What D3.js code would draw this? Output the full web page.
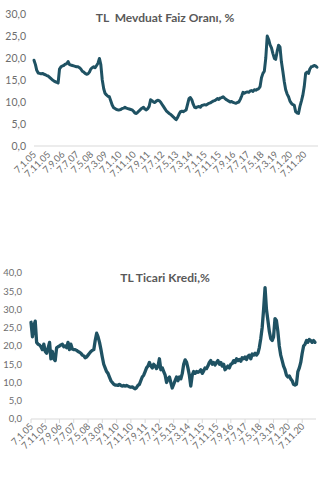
<!DOCTYPE html>
<html><head><meta charset="utf-8">
<script src="https://cdn.jsdelivr.net/npm/d3@7"></script>
<style>body{margin:0;background:#fff}svg{display:block}text{white-space:pre}</style>
</head><body>
<svg id="c" width="328" height="489"></svg>
<script>
// Monthly values from Jan 2005 to Aug 2021
const depositRate = [
19.5,18.5,17.2,16.6,16.5,16.4,16.5,16.3,16.2,16.0,15.9,15.6,
15.3,15.0,14.8,14.6,14.5,14.3,17.5,18.0,18.2,18.3,18.6,18.7,
19.2,18.5,18.4,18.3,18.2,18.1,18.0,18.0,17.8,17.5,17.0,16.8,
16.5,16.3,16.4,16.8,17.5,17.8,18.0,17.8,18.3,18.8,19.9,18.5,
15.0,13.0,12.0,11.6,11.3,11.2,10.3,9.3,8.7,8.5,8.3,8.2,
8.2,8.3,8.5,8.6,8.8,8.6,8.5,8.4,8.3,8.2,7.9,7.5,
7.4,7.7,8.0,8.3,8.6,8.8,8.4,8.2,8.5,9.0,10.5,10.3,
10.0,9.9,10.2,10.4,10.3,10.0,9.5,9.0,8.5,8.0,7.7,7.4,
7.2,6.9,6.6,6.3,6.0,6.5,7.2,7.8,7.9,7.8,8.0,8.2,
9.5,10.8,11.0,10.5,9.5,8.8,8.7,8.9,9.0,8.8,9.2,9.3,
9.4,9.3,9.5,9.7,9.8,10.0,10.2,10.3,10.5,10.8,10.6,10.9,
11.0,11.2,10.9,10.6,10.4,10.2,10.0,10.1,9.9,9.8,9.7,9.9,
10.0,10.6,11.3,12.2,12.0,12.2,12.3,12.2,12.5,12.6,12.4,12.8,
12.7,12.9,13.0,13.5,15.5,16.5,17.0,20.0,25.0,24.2,23.0,22.3,
21.0,19.9,19.7,21.5,22.9,22.5,19.2,17.0,14.6,12.8,11.8,11.2,
10.2,9.7,9.4,9.3,7.8,7.5,7.4,9.0,10.2,11.5,13.5,16.5,
16.8,16.5,17.5,18.0,18.1,18.3,18.2,17.9
];
const commercialLoan = [
26.5,22.5,25.5,26.8,21.0,20.5,20.3,19.8,19.0,20.5,18.5,18.0,
19.5,21.0,16.5,18.5,16.5,16.0,19.5,19.8,20.0,20.3,20.5,19.8,
20.0,19.5,21.0,19.0,20.5,19.2,19.0,19.0,18.8,18.5,18.3,18.0,
17.5,17.3,16.8,17.0,17.5,18.0,18.5,18.8,19.0,21.5,23.5,22.5,
21.0,19.0,17.0,15.0,14.0,13.0,12.5,11.5,10.5,10.0,9.5,9.3,
9.3,9.2,9.5,9.2,9.0,9.2,9.0,9.2,9.0,8.8,8.7,8.8,
8.5,8.3,8.6,9.2,9.5,10.5,11.5,12.0,13.0,14.0,14.5,15.5,
14.5,14.0,15.0,14.5,13.8,14.5,16.5,13.5,14.0,13.0,12.0,10.0,
11.0,11.5,10.0,8.5,9.5,10.5,11.5,10.5,11.5,11.0,12.5,15.0,
16.2,15.5,14.0,12.0,9.0,12.0,13.0,12.5,13.0,12.8,13.0,13.5,
12.5,13.2,14.0,13.8,14.5,15.5,16.0,15.0,15.5,14.8,15.5,16.0,
15.0,15.5,14.5,15.0,13.5,14.0,14.5,14.0,15.0,15.2,16.0,15.5,
16.5,16.0,16.3,15.8,16.8,16.5,17.0,16.3,17.2,17.5,16.5,17.8,
17.5,18.0,17.5,18.0,19.5,22.0,25.0,30.0,36.0,30.0,27.0,24.0,
22.0,21.5,22.5,27.5,27.0,24.0,20.0,17.5,16.0,14.5,13.5,12.0,
11.5,11.8,11.0,10.5,9.5,9.3,9.5,13.0,14.0,15.5,18.0,20.0,
20.5,21.5,21.0,21.8,21.5,21.0,21.5,21.0
];
const tickLabels = ["7.1.05","7.11.05","7.9.06","7.7.07","7.5.08","7.3.09","7.1.10","7.11.10","7.9.11","7.7.12","7.5.13","7.3.14","7.1.15","7.11.15","7.9.16","7.7.17","7.5.18","7.3.19","7.1.20","7.11.20"];
const yTicks1 = [0,5,10,15,20,25,30];
const yTicks2 = [0,5,10,15,20,25,30,35,40];
const titles = ["TL  Mevduat Faiz Oranı, %","TL Ticari Kredi,%"];

const start = new Date(2005,0,1);
const dates = depositRate.map((_,i)=>d3.timeMonth.offset(start,i));
const tickDates = tickLabels.map(s=>{const p=s.split(".");return new Date(2000+ +p[2], +p[1]-1, 1);});
const fmt = v => d3.format(".1f")(v).replace(".",",");

const svg = d3.select("#c");
const lineColor = "#1f5263";

function chart(cfg){
  const g = svg.append("g");
  const x = d3.scaleTime().domain([dates[0], dates[dates.length-1]]).range(cfg.xr);
  const y = d3.scaleLinear().domain([0, cfg.ymax]).range(cfg.yr);
  g.selectAll("text.yl").data(cfg.yt).join("text")
    .attr("x", cfg.ylx).attr("y", d=>y(d)+cfg.yfs*0.35)
    .attr("text-anchor","end").attr("font-family","Lato, 'Open Sans', sans-serif")
    .attr("font-size",cfg.yfs).attr("fill","#6d6d6d").text(fmt);
  g.append("line").attr("x1",cfg.xr[0]).attr("x2",cfg.xr[1]+1).attr("y1",y(0)).attr("y2",y(0))
    .attr("stroke","#d9d9d9").attr("stroke-width",1);
  if(cfg.ticks){
    g.selectAll("line.tk").data(tickDates).join("line")
      .attr("x1",d=>x(d)).attr("x2",d=>x(d)).attr("y1",y(0)).attr("y2",y(0)+4)
      .attr("stroke","#d9d9d9");
  }
  g.selectAll("text.xl").data(tickLabels).join("text")
    .attr("transform",(d,i)=>`translate(${x(tickDates[i])+cfg.xlo},${y(0)+cfg.xly}) rotate(-45)`)
    .attr("text-anchor","end").attr("font-family","Lato, 'Open Sans', sans-serif")
    .attr("font-size",9.5).attr("fill","#6d6d6d").text(d=>d);
  g.append("text").attr("x",165).attr("y",cfg.ty).attr("text-anchor","middle")
    .attr("font-family","Lato, 'Open Sans', sans-serif").attr("font-weight","bold")
    .attr("font-size",12).attr("fill","#595959").text(cfg.title);
  g.append("path").datum(cfg.data)
    .attr("d", d3.line().x((d,i)=>x(dates[i])).y(d=>y(d)))
    .attr("fill","none").attr("stroke",lineColor).attr("stroke-width",cfg.sw)
    .attr("stroke-linejoin","round").attr("stroke-linecap","round");
}

chart({data:depositRate, xr:[34,317], yr:[146,14], ymax:30, yt:yTicks1, ylx:26, yfs:10.5,
  ticks:false, xlo:3, xly:9, ty:22, title:titles[0], sw:3});
chart({data:commercialLoan, xr:[31,315], yr:[419,273], ymax:40, yt:yTicks2, ylx:22, yfs:9.5,
  ticks:true, xlo:3, xly:8, ty:282, title:titles[1], sw:3.3});
</script>
</body></html>
